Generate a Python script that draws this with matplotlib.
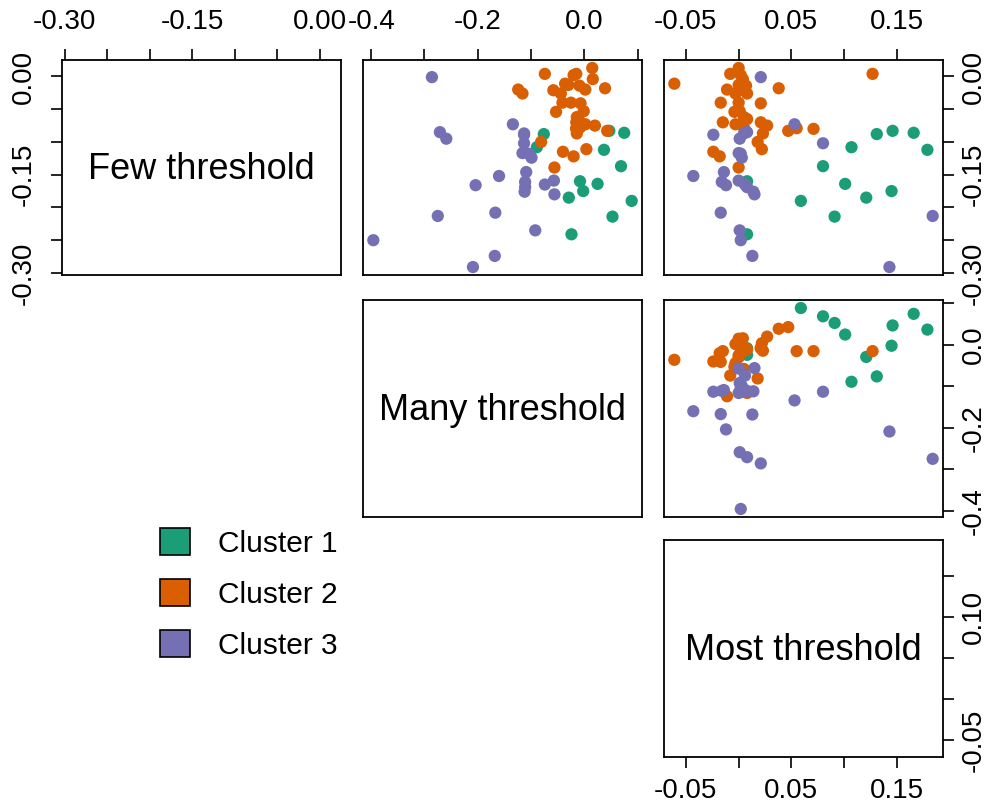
import numpy as np
import matplotlib
matplotlib.use('Agg')
import matplotlib.pyplot as plt
from matplotlib.patches import Patch

plt.rcParams['font.family'] = ['Liberation Sans', 'DejaVu Sans']

names = ['Few threshold', 'Many threshold', 'Most threshold']
cluster_names = ['Cluster 1', 'Cluster 2', 'Cluster 3']
colors = ['#1B9E77', '#D95F02', '#7570B3']

cluster = [1] * 13 + [2] * 35 + [3] * 25
few = [
    -0.088, -0.108, -0.083, -0.086, -0.112, -0.137, -0.160, -0.175, -0.164, -0.185, -0.190, -0.214, -0.241,
    0.004, 0.013, -0.004, -0.018, 0.002, 0.004, -0.011, -0.013, -0.014, -0.020, -0.020, -0.026,
    -0.021, -0.026, -0.040, -0.040, -0.041, -0.053, -0.054, -0.062, -0.070, -0.070, -0.073, -0.075,
    -0.079, -0.087, -0.083, -0.100, -0.115, -0.122, -0.111, -0.139, -0.065, -0.078, -0.080,
    -0.001, -0.085, -0.095, -0.073, -0.089, -0.102, -0.117, -0.118, -0.124, -0.146, -0.161, -0.176,
    -0.152, -0.166, -0.165, -0.159, -0.180, -0.213, -0.208, -0.235, -0.250, -0.274, -0.291, -0.087, -0.169,
]
many = [
    -0.076, -0.089, 0.047, 0.075, 0.037, 0.069, -0.008, -0.002, 0.025, -0.029, 0.089, 0.053, -0.024,
    -0.074, 0.015, 0.016, 0.039, -0.020, -0.015, -0.036, -0.030, -0.009, 0.002, -0.124, -0.116,
    -0.058, -0.044, -0.041, -0.025, -0.007, -0.001, -0.053, -0.014, -0.015, -0.008, 0.002, 0.020,
    -0.015, -0.014, 0.043, -0.081, -0.040, -0.020, 0.004, -0.056, -0.011, -0.008, -0.015,
    -0.286, -0.271, -0.259, -0.134, -0.113, -0.113, -0.116, -0.104, -0.099, -0.109, -0.111, -0.112,
    -0.160, -0.204, -0.074, -0.057, -0.056, -0.275, -0.167, -0.092, -0.396, -0.168, -0.209, -0.113, -0.111,
]
most = [
    0.131, 0.107, 0.146, 0.166, 0.179, 0.080, 0.008, 0.145, 0.101, 0.121, 0.059, 0.091, 0.008,
    -0.008, 0.000, 0.004, 0.038, 0.002, 0.127, -0.061, 0.000, 0.007, 0.003, -0.011, 0.008,
    0.005, -0.003, -0.017, 0.000, 0.021, 0.001, -0.004, 0.005, -0.015, 0.021, -0.003, 0.027,
    0.055, 0.023, 0.047, 0.018, -0.024, -0.018, 0.022, 0.000, 0.008, 0.005, 0.071,
    0.021, 0.008, 0.001, 0.053, -0.024, 0.080, 0.000, 0.002, 0.003, -0.014, -0.016, 0.014,
    -0.043, -0.012, 0.006, 0.000, 0.015, 0.184, -0.017, 0.001, 0.002, 0.013, 0.143, 0.005, 0.008,
]

few_ticks = [-0.30, -0.25, -0.20, -0.15, -0.10, -0.05, 0.00]
few_labels = ['-0.30', '', '', '-0.15', '', '', '0.00']
many_ticks = [-0.4, -0.3, -0.2, -0.1, 0.0, 0.1]
many_labels = ['-0.4', '', '-0.2', '', '0.0', '']
most_ticks = [-0.05, 0.00, 0.05, 0.10, 0.15]
most_labels = ['-0.05', '', '0.05', '', '0.15']
most_labels_right = ['-0.05', '', '', '0.10', '']

data = [np.array(few), np.array(many), np.array(most)]
ticks = [few_ticks, many_ticks, most_ticks]
point_colors = [colors[c - 1] for c in cluster]


def lims(v):
    lo, hi = v.min(), v.max()
    pad = 0.04 * (hi - lo)
    return lo - pad, hi + pad


fig = plt.figure(figsize=(9.89, 8.07), dpi=100)
lefts = [62 / 989, 363 / 989, 664 / 989]
bottoms = [1 - 275 / 807, 1 - 517 / 807, 1 - 757 / 807]
heights = [215 / 807, 217 / 807, 217 / 807]
width = 279 / 989

axes = {}
for i in range(3):
    for j in range(i, 3):
        ax = fig.add_axes([lefts[j], bottoms[i], width, heights[i]])
        ax.set_xlim(lims(data[j]))
        ax.set_ylim(lims(data[i]))
        for s in ax.spines.values():
            s.set_linewidth(1.3)
        ax.tick_params(which='both', direction='out', length=8, width=1.2, labelsize=20, pad=10,
                       top=False, bottom=False, left=False, right=False,
                       labeltop=False, labelbottom=False, labelleft=False, labelright=False)
        ax.set_xticks([])
        ax.set_yticks([])
        if i == j:
            ax.text(0.5, 0.49, names[i], transform=ax.transAxes, ha='center', va='center', fontsize=26)
        else:
            ax.scatter(data[j], data[i], c=point_colors, s=78, linewidths=0)
        axes[(i, j)] = ax


def xaxis(ax, k, lab, side):
    ax.set_xticks(ticks[k])
    ax.set_xticklabels(lab)
    if side == 'top':
        ax.tick_params(axis='x', top=True, labeltop=True)
    else:
        ax.tick_params(axis='x', bottom=True, labelbottom=True, pad=7)


def yaxis(ax, k, lab, side):
    ax.set_yticks(ticks[k])
    ax.set_yticklabels(lab, rotation=90, va='center')
    if side == 'left':
        ax.tick_params(axis='y', left=True, labelleft=True, pad=10)
    else:
        ax.tick_params(axis='y', right=True, labelright=True, pad=5)


xaxis(axes[(0, 0)], 0, few_labels, 'top')
yaxis(axes[(0, 0)], 0, few_labels, 'left')
xaxis(axes[(0, 1)], 1, many_labels, 'top')
xaxis(axes[(0, 2)], 2, most_labels, 'top')
yaxis(axes[(0, 2)], 0, few_labels, 'right')
yaxis(axes[(1, 2)], 1, many_labels, 'right')
xaxis(axes[(2, 2)], 2, most_labels, 'bottom')
yaxis(axes[(2, 2)], 2, most_labels_right, 'right')

handles = [Patch(facecolor=c, edgecolor='black', linewidth=1.2) for c in colors]
fig.legend(handles, cluster_names, loc='center left', bbox_to_anchor=(160 / 989, 1 - 594 / 807),
           frameon=False, fontsize=21.5, handlelength=1.0, handleheight=1.0,
           handletextpad=0.95, labelspacing=0.72, borderpad=0, borderaxespad=0)

fig.savefig('out.png', dpi=100)
